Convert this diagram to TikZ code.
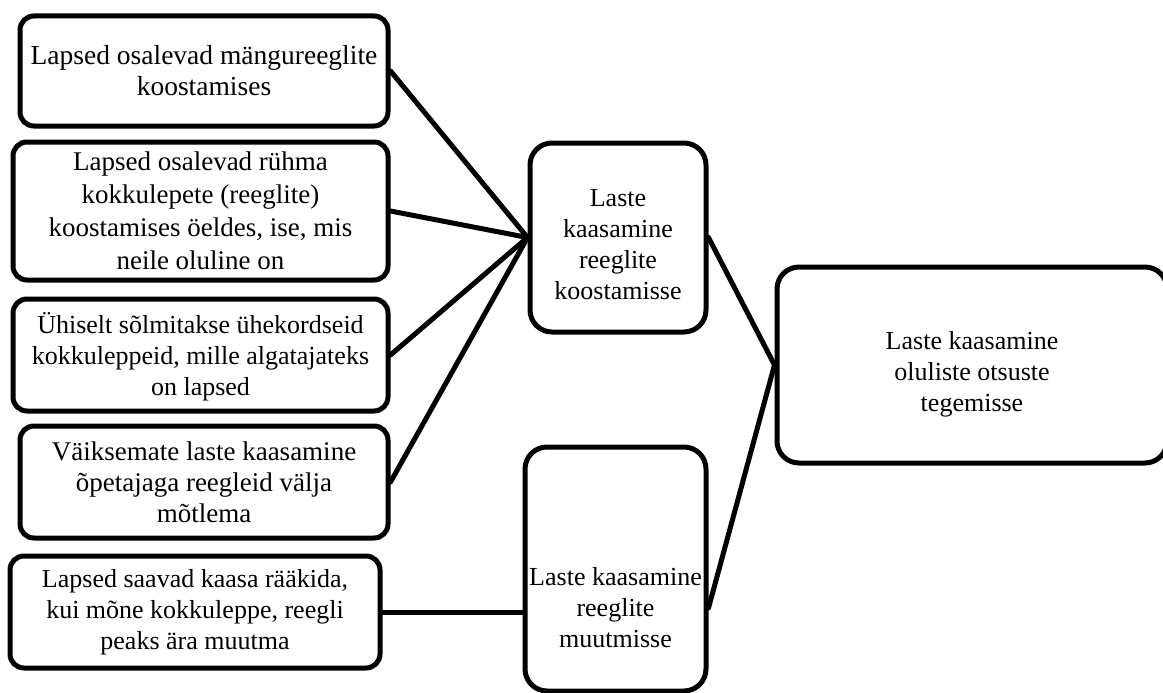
\documentclass[tikz,border=0pt]{standalone}
\usepackage{fontspec}
\setmainfont{Liberation Serif}
\begin{document}
\begin{tikzpicture}[x=1pt,y=-1pt,
  box/.style={draw=black, line width=5pt, rounded corners=14pt, fill=white,
    align=center, inner sep=0pt, font=\fontsize{26}{31}\selectfont},
  bigbox/.style={box, rounded corners=22pt},
  big/.style={font=\fontsize{27.5}{31}\selectfont},
  link/.style={draw=black, line width=5pt, line cap=round},
  txt/.style={align=center, inner sep=0pt, font=\fontsize{26}{31}\selectfont}]
\useasboundingbox (0,0) rectangle (1163,693);
\node[box, big, minimum width=368pt, minimum height=110pt] (b1) at (204,71)
  {Lapsed osalevad mängureeglite\\koostamises};
\node[box, font=\fontsize{27}{33}\selectfont, minimum width=375pt, minimum height=138pt] (b2) at (200.5,211)
  {Lapsed osalevad rühma\\kokkulepete (reeglite)\\koostamises öeldes, ise, mis\\neile oluline on};
\node[box, minimum width=375pt, minimum height=112pt] (b3) at (200.5,355)
  {\rule{0pt}{24pt}Ühiselt sõlmitakse ühekordseid\\kokkuleppeid, mille algatajateks\\on lapsed};
\node[box, font=\fontsize{27}{31}\selectfont, minimum width=368pt, minimum height=112pt] (b4) at (204,482)
  {Väiksemate laste kaasamine\\õpetajaga reegleid välja\\mõtlema};
\node[box, minimum width=370pt, minimum height=112pt] (b5) at (195,612)
  {Lapsed saavad kaasa rääkida,\\kui mõne kokkuleppe, reegli\\peaks ära muutma};
\node[bigbox, minimum width=176pt, minimum height=189pt] (A) at (618,237.5)
  {\rule{0pt}{32pt}Laste\\kaasamine\\reeglite\\koostamisse};
\node[bigbox, minimum width=181pt, minimum height=244pt] (B) at (615.5,569) {};
\node[txt] (Bt) at (615.5,608) {Laste kaasamine\\reeglite\\muutmisse};
\node[bigbox, minimum width=390pt, minimum height=196pt] (C) at (972,365)
  {\rule{0pt}{36pt}Laste kaasamine\\oluliste otsuste\\tegemisse};
\draw[link] (b1.east) -- (A.west);
\draw[link] (b2.east) -- (A.west);
\draw[link] (b3.east) -- (A.west);
\draw[link] (b4.east) -- (A.west);
\draw[link] (A.east) -- (C.west);
\draw[link] (C.west) -- (B.east |- Bt.center);
\draw[link] (b5.east) -- (b5.east -| B.west);
\end{tikzpicture}
\end{document}
